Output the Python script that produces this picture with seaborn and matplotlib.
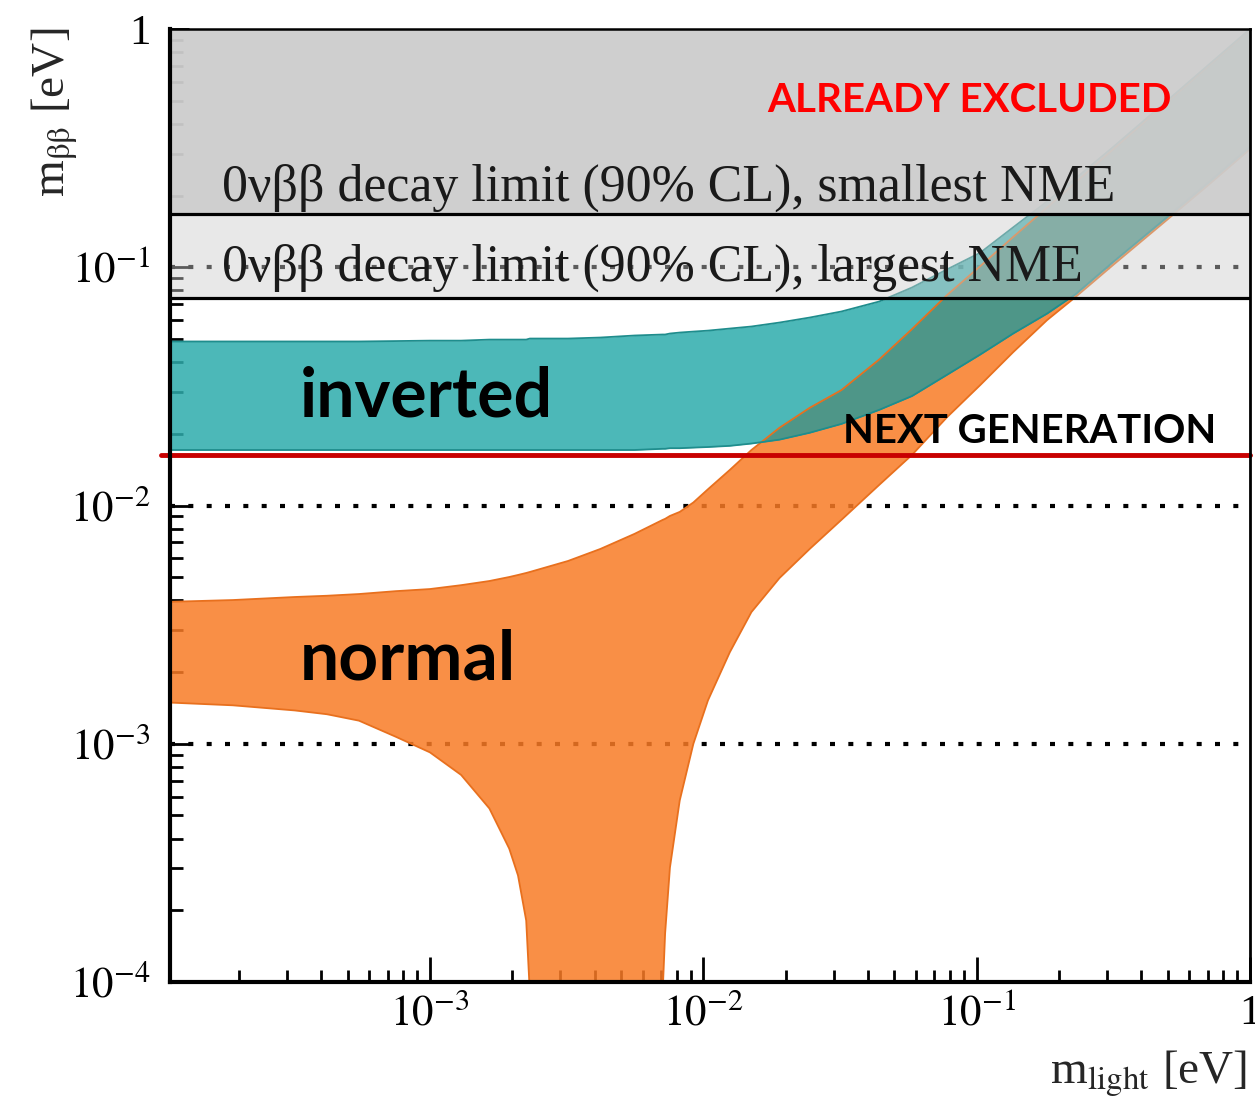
import numpy as np
import pandas as pd
import matplotlib
matplotlib.use("Agg")
import matplotlib.pyplot as plt
import seaborn as sns
from matplotlib.ticker import LogLocator, FuncFormatter, NullFormatter

# lightest neutrino mass [eV]
m_light = [1.1e-4, 1.9e-4, 3.2e-4, 4.2e-4, 5.5e-4, 7.5e-4, 1.0e-3, 1.3e-3, 1.65e-3, 1.95e-3,
           2.1e-3, 2.25e-3, 2.32e-3, 3.2e-3, 4.2e-3, 5.6e-3, 7.1e-3, 7.25e-3, 7.55e-3, 8.2e-3,
           9.2e-3, 1.04e-2, 1.25e-2, 1.5e-2, 1.9e-2, 2.45e-2, 3.2e-2, 4.4e-2, 5.8e-2,
           7.8e-2, 0.103, 0.136, 0.181, 0.23, 0.315, 0.50, 0.71, 1.0]

# normal ordering band (m_bb, eV)
normal_hi = [3.94e-3, 4.01e-3, 4.13e-3, 4.18e-3, 4.25e-3, 4.37e-3, 4.46e-3, 4.63e-3, 4.82e-3, 5.01e-3,
             5.11e-3, 5.21e-3, 5.26e-3, 5.85e-3, 6.57e-3, 7.60e-3, 8.70e-3, 8.79e-3, 9.04e-3, 9.40e-3,
             1.03e-2, 1.17e-2, 1.41e-2, 1.71e-2, 2.12e-2, 2.57e-2, 3.05e-2, 4.1e-2, 5.5e-2,
             7.65e-2, 0.101, 0.134, 0.178, 0.227, 0.312, 0.497, 0.706, 0.995]
normal_lo = [1.49e-3, 1.45e-3, 1.38e-3, 1.33e-3, 1.25e-3, 1.07e-3, 9.2e-4, 7.4e-4, 5.35e-4, 3.63e-4,
             2.80e-4, 1.81e-4, 9e-5, 1e-5, 1e-5, 1e-5, 9e-5, 1.60e-4, 3.02e-4, 5.78e-4,
             1.00e-3, 1.52e-3, 2.42e-3, 3.57e-3, 4.96e-3, 6.57e-3, 8.70e-3, 1.22e-2, 1.63e-2,
             2.35e-2, 3.2e-2, 4.4e-2, 6.0e-2, 7.5e-2, 0.102, 0.159, 0.223, 0.313]

# inverted ordering band (m_bb, eV)
inverted_hi = [4.88e-2, 4.88e-2, 4.88e-2, 4.88e-2, 4.88e-2, 4.90e-2, 4.92e-2, 4.92e-2, 4.97e-2, 4.97e-2,
               4.97e-2, 4.97e-2, 5.02e-2, 5.02e-2, 5.07e-2, 5.17e-2, 5.22e-2, 5.22e-2, 5.27e-2, 5.32e-2,
               5.37e-2, 5.42e-2, 5.53e-2, 5.64e-2, 5.86e-2, 6.15e-2, 6.52e-2, 7.18e-2, 8.22e-2,
               0.098, 0.115, 0.147, 0.189, 0.236, 0.319, 0.503, 0.712, 1.0]
inverted_lo = [1.71e-2, 1.71e-2, 1.71e-2, 1.71e-2, 1.71e-2, 1.71e-2, 1.71e-2, 1.71e-2, 1.71e-2, 1.71e-2,
               1.71e-2, 1.71e-2, 1.71e-2, 1.71e-2, 1.71e-2, 1.71e-2, 1.73e-2, 1.73e-2, 1.74e-2, 1.74e-2,
               1.75e-2, 1.76e-2, 1.78e-2, 1.82e-2, 1.89e-2, 2.02e-2, 2.20e-2, 2.52e-2, 2.88e-2,
               3.54e-2, 4.30e-2, 5.27e-2, 6.39e-2, 7.7e-2, 0.105, 0.163, 0.228, 0.32]

limit_smallest_nme = 0.167
limit_largest_nme = 0.0746
next_generation = 0.0163
dotted_levels = [1e-1, 1e-2, 1e-3]

sns.set_theme(style="ticks")
plt.rcParams["font.family"] = ["Liberation Serif", "DejaVu Serif"]
plt.rcParams["mathtext.fontset"] = "stix"

df = pd.DataFrame({"m_light": m_light, "normal_lo": normal_lo, "normal_hi": normal_hi,
                   "inverted_lo": inverted_lo, "inverted_hi": inverted_hi})

fig = plt.figure(figsize=(12.55, 11.03), dpi=100)
ax = fig.add_axes([0.1355, 0.1097, 0.8605, 0.864])
ax.set_xscale("log")
ax.set_yscale("log")

teal = "#2dacac"
orange = "#f97b26"

# reference dotted lines
for lev in dotted_levels:
    ax.axhline(lev, color="black", lw=3, ls=(0, (1.2, 3.2)), zorder=1)

# bands
ax.fill_between(df.m_light, df.normal_lo, df.normal_hi, color=orange, alpha=0.85, lw=0, zorder=2)
ax.fill_between(df.m_light, df.inverted_lo, df.inverted_hi, color=teal, alpha=0.85, lw=0, zorder=2.1)
ov_lo = np.maximum(df.normal_lo, df.inverted_lo)
ov_hi = np.minimum(df.normal_hi, df.inverted_hi)
ax.fill_between(df.m_light, ov_lo, ov_hi, where=ov_hi > ov_lo, interpolate=True,
                color="#4e9688", lw=0, zorder=2.2)

for col, c in [("normal_lo", "#e8701e"), ("normal_hi", "#e8701e"),
               ("inverted_lo", "#1f8d8d"), ("inverted_hi", "#1f8d8d")]:
    sns.lineplot(data=df, x="m_light", y=col, ax=ax, color=c, lw=1.3,
                 estimator=None, sort=False, zorder=2.3)

# excluded regions
ax.axhspan(limit_largest_nme, limit_smallest_nme, color="#cccccc", alpha=0.45, lw=0, zorder=3)
ax.axhspan(limit_smallest_nme, 1.0, color="#cdcdcd", alpha=0.95, lw=0, zorder=3)
ax.axhline(limit_smallest_nme, color="black", lw=2.3, zorder=4)
ax.axhline(limit_largest_nme, color="black", lw=2.3, zorder=4)

# next generation sensitivity
ax.plot([-0.008, 1.0], [next_generation, next_generation], color="#c80000", lw=3.5,
        transform=ax.get_yaxis_transform(), clip_on=False, zorder=5)

ax.set_xlim(1.12e-4, 1.0)
ax.set_ylim(1e-4, 1.0)

fmt = FuncFormatter(lambda v, p: "1" if abs(np.log10(v)) < 1e-6 else r"$10^{%d}$" % round(np.log10(v)))
for axis in (ax.xaxis, ax.yaxis):
    axis.set_major_locator(LogLocator(base=10, numticks=10))
    axis.set_minor_locator(LogLocator(base=10, subs=np.arange(2, 10), numticks=20))
    axis.set_major_formatter(fmt)
    axis.set_minor_formatter(NullFormatter())

ax.tick_params(axis="both", which="both", direction="in", width=2, colors="black",
               top=False, right=False, labelsize=31)
ax.tick_params(axis="x", which="major", length=18, pad=9)
ax.tick_params(axis="x", which="minor", length=8.6)
ax.tick_params(axis="y", which="major", length=14, pad=14)
ax.tick_params(axis="y", which="minor", length=9.4)

for side, lw in [("left", 3), ("bottom", 3), ("right", 2), ("top", 1.8)]:
    ax.spines[side].set_linewidth(lw)
    ax.spines[side].set_color("black")
    ax.spines[side].set_zorder(6)
    ax.spines[side].set_visible(True)

ax.set_xlabel("")
ax.set_ylabel("")
fig.text(0.044, 0.898, r"m$_{\mathrm{ββ}}$ [eV]", rotation=90, ha="center", va="center", fontsize=34)
fig.text(0.915, 0.026, r"m$_{\mathrm{light}}$ [eV]", ha="center", va="center", fontsize=34)

ax.text(0.048, 0.833, "0νββ decay limit (90% CL), smallest NME", transform=ax.transAxes,
        fontsize=37.4, ha="left", va="center", color="#1a1a1a", zorder=7)
ax.text(0.048, 0.749, "0νββ decay limit (90% CL), largest NME", transform=ax.transAxes,
        fontsize=37.4, ha="left", va="center", color="#1a1a1a", zorder=7)

ax.text(0.740, 0.9245, "ALREADY EXCLUDED", transform=ax.transAxes, ha="center", va="center",
        fontsize=29, color="#ff0000", family=["Lato", "DejaVu Sans"], weight="bold", zorder=7)
ax.text(0.623, 0.578, "NEXT GENERATION", transform=ax.transAxes, ha="left", va="center",
        fontsize=28.8, color="black", family=["Lato", "DejaVu Sans"], weight="bold", zorder=7)
ax.text(0.120, 0.614, "inverted", transform=ax.transAxes, ha="left", va="center",
        fontsize=49, color="black", family=["Lato", "DejaVu Sans"], weight="bold", zorder=7)
ax.text(0.120, 0.338, "normal", transform=ax.transAxes, ha="left", va="center",
        fontsize=50, color="black", family=["Lato", "DejaVu Sans"], weight="bold", zorder=7)

fig.savefig("out.png", dpi=100)
